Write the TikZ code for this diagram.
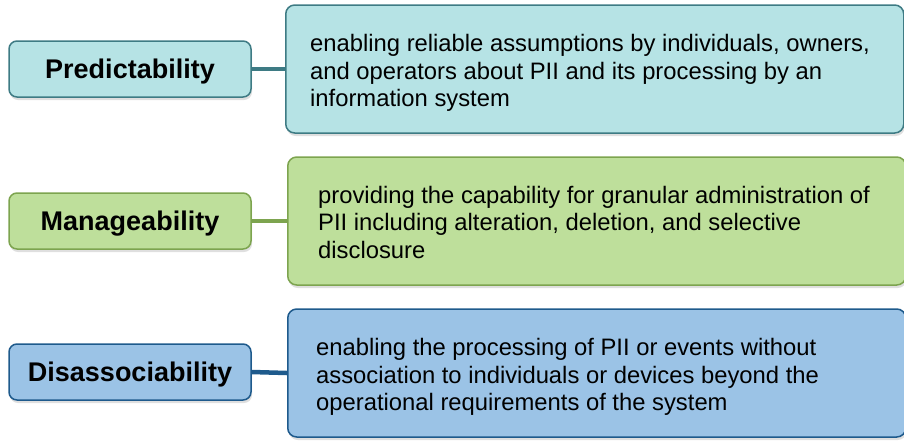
\documentclass[tikz,border=0pt]{standalone}
\usepackage{fontspec}
\setmainfont{Liberation Sans}
\usetikzlibrary{shadows}
\definecolor{tealfill}{HTML}{B6E3E5}
\definecolor{tealline}{HTML}{3E7B84}
\definecolor{greenfill}{HTML}{BEDF9B}
\definecolor{greenline}{HTML}{7DA44F}
\definecolor{bluefill}{HTML}{9BC3E6}
\definecolor{blueline}{HTML}{1E5A8C}
\tikzset{
  lbox/.style={rounded corners=8pt, line width=1.5pt, minimum width=242pt, minimum height=56pt,
    font=\fontsize{27}{30}\selectfont\bfseries, inner sep=0pt, text height=19pt, text depth=0pt,
    drop shadow={opacity=0.25, shadow xshift=1pt, shadow yshift=-3pt}},
  rbox/.style={rounded corners=9pt, line width=1.5pt, minimum width=618pt, minimum height=128pt,
    anchor=west, inner sep=0pt,
    drop shadow={opacity=0.25, shadow xshift=1pt, shadow yshift=-3pt}},
  desc/.style={font=\fontsize{23.8}{27.5}\selectfont, align=left, anchor=west, inner sep=0pt},
  conn/.style={line width=4.5pt}
}
\begin{document}
\begin{tikzpicture}[x=1pt,y=-1pt]
\useasboundingbox (0,0) rectangle (904,440);
% top
\node[lbox, draw=tealline, fill=tealfill] (p) at (130,69) {Predictability};
\node[rbox, draw=tealline, fill=tealfill] (pd) at (285,69) {};
\node[desc] (pdt) at ([xshift=25pt, yshift=-4pt]pd.west)
 {enabling reliable assumptions by individuals, owners,\\and operators about PII and its processing by an\\information system};
\draw[conn, tealline] (p.east) -- (pd.west);
% middle
\node[lbox, draw=greenline, fill=greenfill] (m) at (130,221) {Manageability};
\node[rbox, draw=greenline, fill=greenfill] (md) at (287,221) {};
\node[desc] (mdt) at ([xshift=31pt, yshift=-1pt]md.west)
 {providing the capability for granular administration of\\PII including alteration, deletion, and selective\\disclosure};
\draw[conn, greenline] (m.east) -- (md.west);
% bottom
\node[lbox, draw=blueline, fill=bluefill] (d) at (130,372) {Disassociability};
\node[rbox, draw=blueline, fill=bluefill] (dd) at (287,373) {};
\node[desc] (ddt) at ([xshift=29pt, yshift=-4pt]dd.west)
 {enabling the processing of PII or events without\\association to individuals or devices beyond the\\operational requirements of the system};
\draw[conn, blueline] (d.east) -- (dd.west);
\end{tikzpicture}
\end{document}
